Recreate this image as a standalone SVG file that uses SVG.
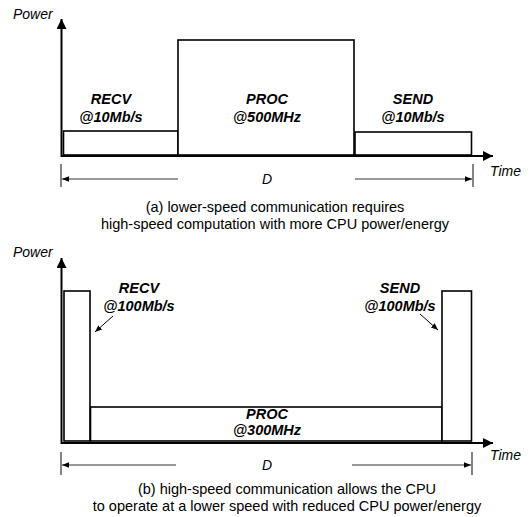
<svg xmlns="http://www.w3.org/2000/svg" width="532" height="517" viewBox="0 0 532 517">
<defs>
<style>
.ax{stroke:#000;stroke-width:2;fill:none}
.bx{stroke:#000;stroke-width:1.6;fill:#fff}
.dim{stroke:#333;stroke-width:1;fill:none}
.tick{stroke:#333;stroke-width:1.2}
.ptr{stroke:#000;stroke-width:1;fill:none}
text{font-family:"Liberation Sans",Arial,sans-serif;font-size:14px;fill:#000}
.axl{font-style:italic}
.lbl{font-style:italic;font-weight:bold;text-anchor:middle;font-size:14.5px}
.cap{text-anchor:middle;font-size:14.5px}
.d{font-style:italic;text-anchor:middle}
</style>
<marker id="ah" viewBox="0 0 10 10" refX="10" refY="5" markerWidth="10" markerHeight="10" markerUnits="userSpaceOnUse" orient="auto"><path d="M0,0 L10,5 L0,10 z" fill="#000"/></marker>
<marker id="sh" viewBox="0 0 10 10" refX="10" refY="5" markerWidth="7" markerHeight="7" markerUnits="userSpaceOnUse" orient="auto"><path d="M0,1 L10,5 L0,9 z" fill="#000"/></marker>
</defs>

<!-- Diagram (a) -->
<g id="a-recv"><rect class="bx" x="63.5" y="131" width="114.5" height="24"/><text class="lbl" x="111" y="104">RECV</text><text class="lbl" x="111" y="122">@10Mb/s</text></g>
<g id="a-proc"><rect class="bx" x="178" y="40" width="176" height="115"/><text class="lbl" x="267" y="104">PROC</text><text class="lbl" x="267" y="122">@500MHz</text></g>
<g id="a-send"><rect class="bx" x="355" y="132" width="116.5" height="23"/><text class="lbl" x="413" y="104">SEND</text><text class="lbl" x="413" y="122">@10Mb/s</text></g>
<g id="a-axes">
<line class="ax" x1="61.5" y1="157" x2="61.5" y2="19" marker-end="url(#ah)"/>
<line class="ax" x1="61.5" y1="156" x2="493" y2="156" marker-end="url(#ah)"/>
<text class="axl" x="13" y="19">Power</text>
<text class="axl" x="490" y="176">Time</text>
</g>
<g id="a-duration">
<line class="tick" x1="61" y1="164" x2="61" y2="187"/>
<line class="tick" x1="473" y1="164" x2="473" y2="187"/>
<line class="dim" x1="178" y1="179" x2="62" y2="179" marker-end="url(#sh)"/>
<line class="dim" x1="355" y1="179" x2="472" y2="179" marker-end="url(#sh)"/>
<text class="d" x="267" y="184">D</text>
</g>
<g id="a-caption">
<text class="cap" x="275" y="212">(a) lower-speed communication requires</text>
<text class="cap" x="275" y="229">high-speed computation with more CPU power/energy</text>
</g>

<!-- Diagram (b) -->
<g id="b-recv"><rect class="bx" x="64" y="291" width="26" height="150"/><text class="lbl" x="139" y="293">RECV</text><text class="lbl" x="139" y="311">@100Mb/s</text></g>
<g id="b-proc"><rect class="bx" x="90.5" y="407" width="351.5" height="34"/><text class="lbl" x="267" y="419">PROC</text><text class="lbl" x="267" y="435">@300MHz</text></g>
<g id="b-send"><rect class="bx" x="442" y="291" width="29.5" height="150"/><text class="lbl" x="400" y="293">SEND</text><text class="lbl" x="400" y="311">@100Mb/s</text></g>
<g id="b-connectors">
<line class="ptr" x1="113" y1="316" x2="95" y2="332" marker-end="url(#sh)"/>
<line class="ptr" x1="420" y1="314" x2="438" y2="330" marker-end="url(#sh)"/>
</g>
<g id="b-axes">
<line class="ax" x1="61.5" y1="444" x2="61.5" y2="258" marker-end="url(#ah)"/>
<line class="ax" x1="61.5" y1="443" x2="493" y2="443" marker-end="url(#ah)"/>
<text class="axl" x="13" y="257">Power</text>
<text class="axl" x="490" y="460">Time</text>
</g>
<g id="b-duration">
<line class="tick" x1="61" y1="452" x2="61" y2="475"/>
<line class="tick" x1="472" y1="452" x2="472" y2="475"/>
<line class="dim" x1="176" y1="465" x2="62" y2="465" marker-end="url(#sh)"/>
<line class="dim" x1="352" y1="465" x2="471" y2="465" marker-end="url(#sh)"/>
<text class="d" x="267" y="470">D</text>
</g>
<g id="b-caption">
<text class="cap" x="287" y="494">(b) high-speed communication allows the CPU</text>
<text class="cap" x="287" y="511">to operate at a lower speed with reduced CPU power/energy</text>
</g>
</svg>
